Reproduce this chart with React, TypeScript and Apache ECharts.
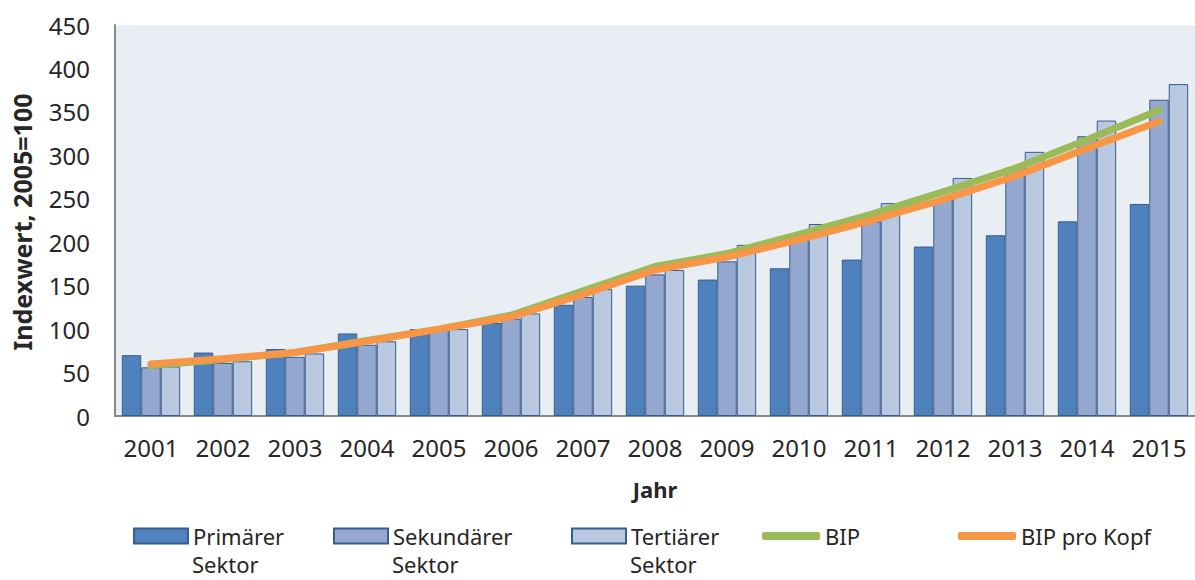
import React, { useEffect, useRef } from "react";
import * as echarts from "echarts";

const years = ["2001","2002","2003","2004","2005","2006","2007","2008","2009","2010","2011","2012","2013","2014","2015"];
const primaer = [70, 73, 77, 95, 100, 107, 128, 150, 157, 170, 180, 195, 208, 224, 244];
const sekundaer = [56, 61, 68, 82, 100, 112, 137, 163, 178, 203, 224, 249, 286, 322, 364];
const tertiaer = [57, 63, 72, 86, 100, 118, 146, 168, 197, 221, 245, 274, 304, 340, 382];
const bip = [58, 65, 73, 87, 100, 116, 144, 172, 187, 209, 232, 258, 285, 318, 352];
const bipProKopf = [60, 66, 73, 86, 100, 114, 140, 168, 183, 203, 225, 249, 276, 308, 339];

const FONT = "'Noto Sans', sans-serif";
const TXT = "#262626";

export default function App() {
  const ref = useRef<HTMLDivElement>(null);
  useEffect(() => {
    if (!ref.current) return;
    const chart = echarts.init(ref.current, undefined, { renderer: "svg" });
    const legendText = { fontFamily: FONT, fontSize: 22, color: TXT, lineHeight: 24 };
    const mkLegend = (name: string, iconX: number, line: boolean) => ({
      data: [name],
      left: iconX - 5,
      top: 519,
      orient: "horizontal",
      itemWidth: line ? 58 : 54,
      itemHeight: line ? 8 : 15,
      itemGap: 0,
      icon: line ? "roundRect" : "rect",
      textStyle: legendText,
      formatter: (n: string) => (line ? n : n.split(" ")[0]),
      selectedMode: false,
    });
    const secondLine = (x: number) => ({
      type: "text",
      x,
      y: 564,
      style: {
        text: "Sektor",
        fontFamily: FONT,
        fontSize: 22,
        lineHeight: 24,
        fill: TXT,
        align: "left",
        verticalAlign: "middle",
      },
    });
    const barBorder = { borderColor: "#385D8A", borderWidth: 1 };
    chart.setOption({
      animation: false,
      grid: {
        left: 115,
        right: 0,
        top: 25,
        bottom: 164,
        show: true,
        backgroundColor: "#E9EDF4",
        borderWidth: 0,
      },
      legend: [
        mkLegend("Primärer Sektor", 133, false),
        mkLegend("Sekundärer Sektor", 333, false),
        mkLegend("Tertiärer Sektor", 571, false),
        mkLegend("BIP", 762, true),
        mkLegend("BIP pro Kopf", 958, true),
      ],
      xAxis: {
        type: "category",
        data: years,
        axisLine: { lineStyle: { color: "#898989", width: 2 } },
        axisTick: { show: false },
        axisLabel: { fontFamily: FONT, fontSize: 24, color: TXT, margin: 19 },
        name: "Jahr",
        nameLocation: "middle",
        nameGap: 62,
        nameTextStyle: { fontFamily: FONT, fontSize: 22, fontWeight: "bold", color: TXT },
      },
      yAxis: {
        type: "value",
        min: 0,
        max: 450,
        interval: 50,
        axisLine: { show: true, lineStyle: { color: "#898989", width: 2 } },
        axisTick: { show: false },
        splitLine: { show: false },
        axisLabel: { fontFamily: FONT, fontSize: 24, color: TXT, margin: 25 },
      },
      graphic: [
        {
          type: "text",
          x: 22,
          y: 222,
          rotation: Math.PI / 2,
          style: {
            text: "Indexwert, 2005=100",
            fontFamily: FONT,
            fontSize: 25,
            fontWeight: "bold",
            fill: TXT,
            align: "center",
            verticalAlign: "middle",
          },
        },
        secondLine(192),
        secondLine(392),
        secondLine(630),
      ],
      series: [
        {
          name: "Primärer Sektor",
          type: "bar",
          data: primaer,
          barGap: "0%",
          barCategoryGap: "19%",
          itemStyle: { color: "#4F81BD", ...barBorder },
        },
        {
          name: "Sekundärer Sektor",
          type: "bar",
          data: sekundaer,
          barGap: "0%",
          barCategoryGap: "19%",
          itemStyle: { color: "#95A9D0", ...barBorder },
        },
        {
          name: "Tertiärer Sektor",
          type: "bar",
          data: tertiaer,
          barGap: "0%",
          barCategoryGap: "19%",
          itemStyle: { color: "#B9C8E1", ...barBorder },
        },
        {
          name: "BIP",
          type: "line",
          data: bip,
          symbol: "none",
          lineStyle: { color: "#9BBB59", width: 7, cap: "round", join: "round" },
          itemStyle: { color: "#9BBB59" },
        },
        {
          name: "BIP pro Kopf",
          type: "line",
          data: bipProKopf,
          symbol: "none",
          lineStyle: { color: "#F79646", width: 7, cap: "round", join: "round" },
          itemStyle: { color: "#F79646" },
        },
      ],
    });
    return () => chart.dispose();
  }, []);
  return (
    <div
      ref={ref}
      style={{ position: "absolute", left: 0, top: 0, width: 1195, height: 580 }}
    />
  );
}
